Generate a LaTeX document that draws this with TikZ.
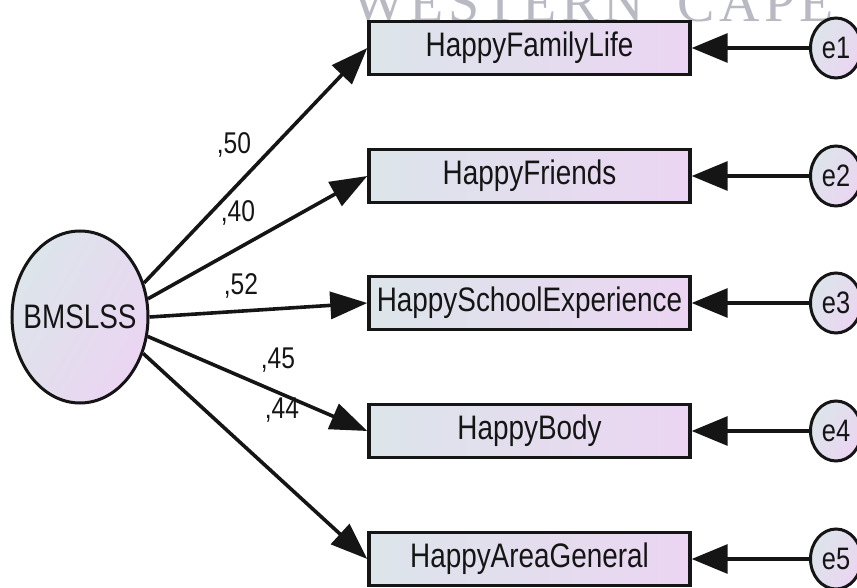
\documentclass[tikz,border=0pt]{standalone}
\usepackage{fontspec}
\setmainfont{Liberation Sans}
\newfontfamily\amosfont[FakeStretch=0.82]{Liberation Sans}
\newfontfamily\crestfont[LetterSpace=8]{Liberation Serif}
\usetikzlibrary{arrows.meta,shapes.geometric}

\definecolor{boxleft}{HTML}{DCE5EA}
\definecolor{boxright}{HTML}{EBD5F2}
\definecolor{ink}{HTML}{151515}
\definecolor{crest}{HTML}{B9B9C3}

\tikzset{
  observed/.style={rectangle, draw=ink, line width=3.4pt, minimum width=321pt,
    minimum height=53pt, inner sep=0pt, left color=boxleft, right color=boxright,
    text=ink, font=\amosfont\fontsize{34}{38}\selectfont},
  latent/.style={ellipse, draw=ink, line width=3pt, minimum width=136pt,
    minimum height=172pt, inner xsep=-12pt, inner ysep=0pt, left color=boxleft,
    right color=boxright, shading angle=60, text=ink,
    font=\amosfont\fontsize{34}{38}\selectfont},
  errterm/.style={ellipse, draw=ink, line width=3pt, minimum width=51pt,
    minimum height=60pt, inner sep=0pt, left color=boxleft, right color=boxright,
    shading angle=60, text=ink, font=\amosfont\fontsize{31}{34}\selectfont},
  loading/.style={draw=ink, line width=3.6pt, -{Triangle[length=37pt,width=27pt]}},
  errpath/.style={draw=ink, line width=3.2pt, -{Triangle[length=36pt,width=29pt]}},
  coef/.style={text=ink, font=\amosfont\fontsize{30}{33}\selectfont},
  crestmark/.style={text=crest, font=\crestfont\fontsize{56}{60}\selectfont, inner sep=0pt},
}

\begin{document}
\begin{tikzpicture}[x=1pt, y=-1pt]
  \path[use as bounding box] (0,0) rectangle (857,588);
  \clip (0,0) rectangle (857,588);

  % faint crest lettering along the top edge
  \node[crestmark, anchor=base west] (crest) at (352,22) {WESTERN\hspace{34pt}CAPE};

  % latent factor
  \node[latent] (bm) at (80,317) {BMSLSS};

  % observed indicators
  \node[observed] (b1) at (529.5,48)  {HappyFamilyLife};
  \node[observed] (b2) at (529.5,176) {HappyFriends};
  \node[observed] (b3) at (529.5,303) {HappySchoolExperience};
  \node[observed] (b4) at (529.5,431) {HappyBody};
  \node[observed] (b5) at (529.5,559) {HappyAreaGeneral};

  % error terms
  \node[errterm] (e1) at (836,48)  {e1};
  \node[errterm] (e2) at (836,176) {e2};
  \node[errterm] (e3) at (836,303) {e3};
  \node[errterm] (e4) at (836,431) {e4};
  \node[errterm] (e5) at (836,559) {e5};

  % factor loadings
  \draw[loading] (bm.28)  -- (b1.west);
  \draw[loading] (bm.15)  -- (b2.west);
  \draw[loading] (bm.0)   -- (b3.west);
  \draw[loading] (bm.-16) -- (b4.west);
  \draw[loading] (bm.-30) -- (b5.west);

  % error paths
  \draw[errpath] (e1) -- (b1);
  \draw[errpath] (e2) -- (b2);
  \draw[errpath] (e3) -- (b3);
  \draw[errpath] (e4) -- (b4);
  \draw[errpath] (e5) -- (b5);

  % loading estimates
  \node[coef] (l1) at (234,145) {,50};
  \node[coef] (l2) at (238,213) {,40};
  \node[coef] (l3) at (241,286) {,52};
  \node[coef] (l4) at (278,360) {,45};
  \node[coef] (l5) at (282,410) {,44};
\end{tikzpicture}
\end{document}
